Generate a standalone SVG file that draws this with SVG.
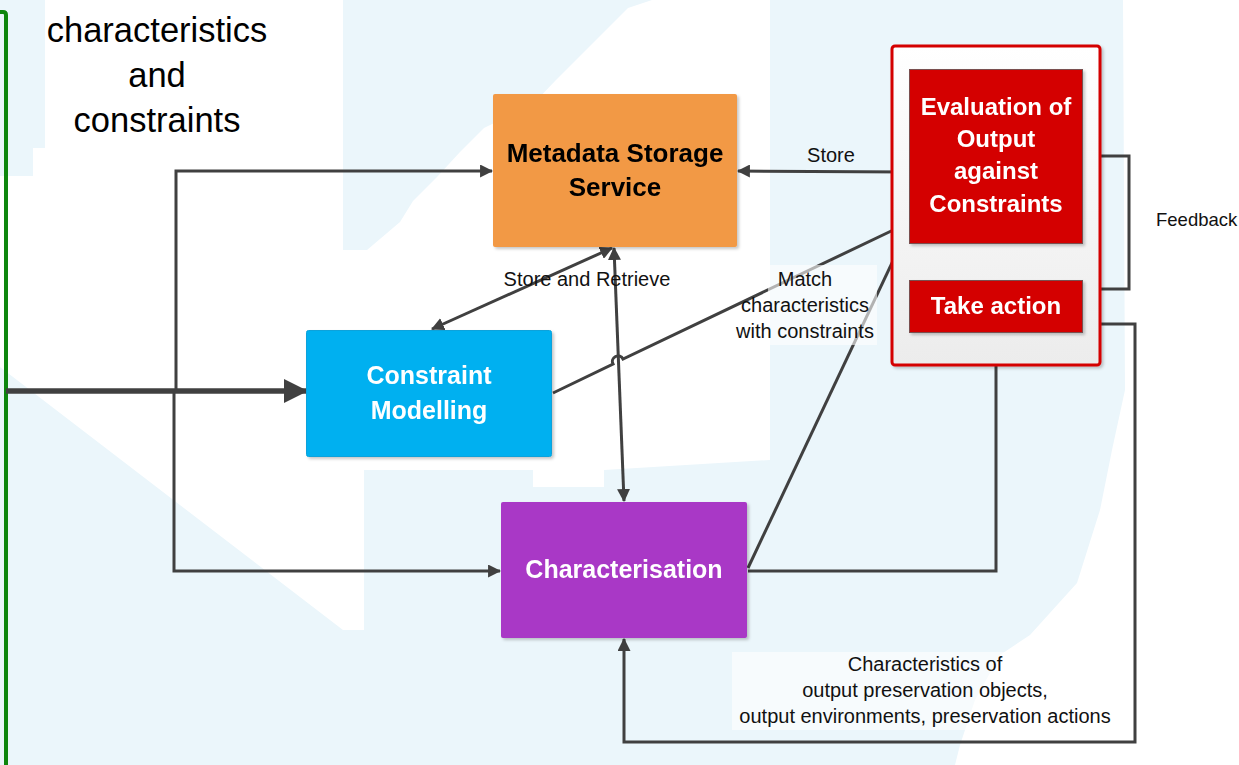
<svg xmlns="http://www.w3.org/2000/svg" width="1239" height="765" viewBox="0 0 1239 765">
<style>
.bg{fill:#EBF6FB}
.c{fill:none;stroke:#404040;stroke-width:3;stroke-linejoin:miter}
.lbl{font-family:"Liberation Sans",Arial,sans-serif;font-size:20px;fill:#111;text-anchor:middle}
.big{font-family:"Liberation Sans",Arial,sans-serif;font-size:34.5px;fill:#000;text-anchor:middle}
.nt{font-family:"Liberation Sans",Arial,sans-serif;font-size:24px;font-weight:bold;text-anchor:middle}
.w{fill:#fff}
.k{fill:#000}
</style>
<defs>
<marker id="ar" viewBox="0 0 12 12" refX="11" refY="6" markerWidth="13" markerHeight="13" markerUnits="userSpaceOnUse" orient="auto-start-reverse">
<path d="M0,0 L12,6 L0,12 z" fill="#404040"/>
</marker>
<marker id="bigar" viewBox="0 0 24 24" refX="22" refY="12" markerWidth="24" markerHeight="24" markerUnits="userSpaceOnUse" orient="auto">
<path d="M0,0 L24,12 L0,24 z" fill="#404040"/>
</marker>
<filter id="sh" x="-10%" y="-10%" width="130%" height="130%">
<feDropShadow dx="2" dy="2" stdDeviation="1.5" flood-color="#000" flood-opacity="0.22"/>
</filter>
<linearGradient id="gr" x1="0" y1="0" x2="0" y2="1">
<stop offset="0" stop-color="#FFFFFF"/>
<stop offset="1" stop-color="#ECECEC"/>
</linearGradient>
</defs>

<g id="background">
<rect x="0" y="0" width="1239" height="765" fill="#fff"/>
<polygon class="bg" points="0,0 45,0 45,148 33,148 33,176 0,176"/>
<polygon class="bg" points="343,0 652,0 628,8 604,32 580,56 556,80 533,104 484,128 460,152 437,177 413,201 400,222 367,250 343,250"/>
<polygon class="bg" points="770,0 1123,0 1125,390 1112,450 1100,510 1077,583 1030,635 1000,655 975,700 960,745 955,765 0,765 0,367 343,630 364,630 364,470 533,470 533,487 604,487 604,470 770,460"/>
</g>

<g id="input-frame">
<path d="M0,12 L3,12 Q6,12 6,15 L6,765" fill="none" stroke="#0E860E" stroke-width="4"/>
<text class="big" x="157" y="42">characteristics</text>
<text class="big" x="157" y="87">and</text>
<text class="big" x="157" y="132">constraints</text>
</g>

<g id="connectors">
<line x1="6" y1="391" x2="306" y2="391" stroke="#404040" stroke-width="5.5" marker-end="url(#bigar)"/>
<polyline class="c" points="176,391 176,171 492,171" marker-end="url(#ar)"/>
<polyline class="c" points="174,391 174,571 500,571" marker-end="url(#ar)"/>
<line class="c" x1="909" y1="172" x2="738" y2="171" marker-end="url(#ar)"/>
<line class="c" x1="612" y1="248" x2="432" y2="329" marker-start="url(#ar)" marker-end="url(#ar)"/>
<line class="c" x1="614" y1="248" x2="624" y2="501" marker-start="url(#ar)" marker-end="url(#ar)"/>
<path class="c" d="M553,393 L613,364 A5.5,5.5 0 0 1 623,359 L908,223" marker-end="url(#ar)"/>
<line class="c" x1="748" y1="568" x2="908" y2="229" marker-end="url(#ar)"/>
<polyline class="c" points="748,571 996,571 996,334" marker-end="url(#ar)"/>
<line class="c" x1="996" y1="280" x2="996" y2="245" marker-end="url(#ar)"/>
<polyline class="c" points="1083,156 1129,156 1129,289 1085,289" marker-end="url(#ar)"/>
<polyline class="c" points="1083,324 1135,324 1135,742 624,742 624,639" marker-end="url(#ar)"/>
<rect x="768" y="265" width="109" height="80" fill="#fff" opacity="0.6"/>
<rect x="732" y="652" width="386" height="78" fill="#fff" opacity="0.6"/>
<text class="lbl" x="831" y="162">Store</text>
<text class="lbl" x="587" y="286">Store and Retrieve</text>
<text class="lbl" x="805" y="286">Match</text>
<text class="lbl" x="805" y="312">characteristics</text>
<text class="lbl" x="805" y="338">with constraints</text>
<text class="lbl" x="1156" y="226" style="text-anchor:start;font-size:18.5px">Feedback</text>
<text class="lbl" x="925" y="671">Characteristics of</text>
<text class="lbl" x="925" y="697">output preservation objects,</text>
<text class="lbl" x="925" y="723">output environments, preservation actions</text>
</g>

<g id="metadata-storage-service" filter="url(#sh)">
<rect x="493" y="94" width="244" height="153" rx="2" fill="#F29944"/>
<text class="nt k" x="615" y="162" style="font-size:26px">Metadata Storage</text>
<text class="nt k" x="615" y="196" style="font-size:26px">Service</text>
</g>

<g id="constraint-modelling" filter="url(#sh)">
<rect x="306.5" y="330.5" width="245" height="126" rx="2" fill="#00B0F0" stroke="#0AA2DB" stroke-width="1"/>
<text class="nt w" x="429" y="384" style="font-size:25px">Constraint</text>
<text class="nt w" x="429" y="419" style="font-size:25px">Modelling</text>
</g>

<g id="characterisation" filter="url(#sh)">
<rect x="501" y="502" width="246" height="136" rx="2" fill="#A937C6"/>
<text class="nt w" x="624" y="578" style="font-size:25px">Characterisation</text>
</g>

<g id="evaluation-group">
<rect x="892" y="46" width="208" height="319" rx="3" fill="url(#gr)" stroke="#D40000" stroke-width="3" filter="url(#sh)"/>
</g>

<g id="evaluation" filter="url(#sh)">
<rect x="909.5" y="69.5" width="173" height="174" fill="#D40000" stroke="#7A5050" stroke-width="1"/>
<text class="nt w" x="996" y="115">Evaluation of</text>
<text class="nt w" x="996" y="147">Output</text>
<text class="nt w" x="996" y="179">against</text>
<text class="nt w" x="996" y="212">Constraints</text>
</g>

<g id="take-action" filter="url(#sh)">
<rect x="909.5" y="280.5" width="173" height="52" fill="#D40000" stroke="#7A5050" stroke-width="1"/>
<text class="nt w" x="996" y="314">Take action</text>
</g>
</svg>
